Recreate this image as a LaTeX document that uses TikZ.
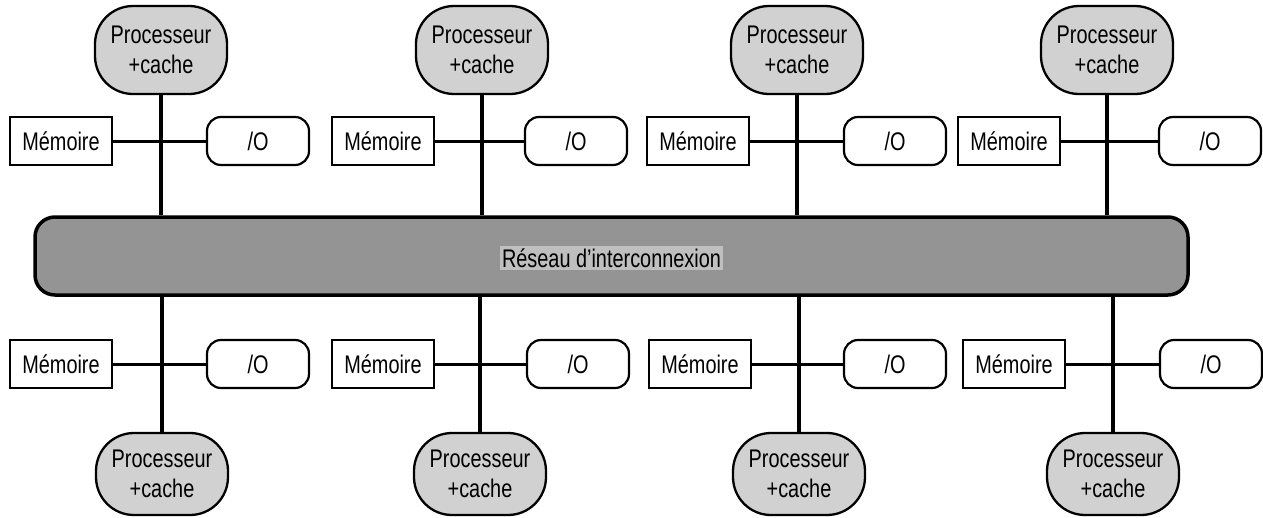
\documentclass[tikz,border=0pt]{standalone}
\usepackage{fontspec}
\setmainfont{Liberation Sans}[FakeStretch=0.78]
\begin{document}
\begin{tikzpicture}[x=1pt,y=-1pt,
  every node/.style={inner sep=0pt, font=\fontsize{25.5}{30}\selectfont},
  proc/.style={draw=black, line width=2.3pt, fill=black!18, rounded corners=38pt,
    minimum width=132pt, minimum height=88pt, align=center},
  mem/.style={draw=black, line width=2.2pt, fill=white, minimum width=102pt, minimum height=48pt},
  io/.style={draw=black, line width=2.2pt, fill=white, rounded corners=14pt, minimum width=102pt, minimum height=48pt},
  bus/.style={draw=black, line width=3.5pt, fill=black!42, rounded corners=20pt,
    minimum width=1153pt, minimum height=78pt},
  vlink/.style={line width=4pt},
  hlink/.style={line width=3pt}]
\useasboundingbox (0,0) rectangle (1263,517);

\node[bus] (bus) at (611.5,256) {};
\node[fill=black!25, inner sep=2pt] (bt) at (611.5,258) {Réseau d'interconnexion};

% top row
\foreach \i/\L/\M/\O in {1/161/61/258, 2/482/383/576, 3/797/698/895, 4/1107/1009/1210}{
  \node[proc] (tp\i) at (\L,50) {Processeur\\+cache};
  \node[mem] (tm\i) at (\M,141) {Mémoire};
  \node[io] (ti\i) at (\O,141) {/O};
  \draw[hlink] (tm\i) -- (ti\i);
  \draw[vlink] (tp\i) -- (tp\i |- bus.north);
}

% bottom row
\foreach \i/\L/\M/\O in {1/162/61/258, 2/480/383/578, 3/799/700/895, 4/1113/1014/1211}{
  \node[proc, minimum height=82pt] (bp\i) at (\L,474) {Processeur\\+cache};
  \node[mem] (bm\i) at (\M,364) {Mémoire};
  \node[io] (bi\i) at (\O,364) {/O};
  \draw[hlink] (bm\i) -- (bi\i);
  \draw[vlink] (bp\i) -- (bp\i |- bus.south);
}
\end{tikzpicture}
\end{document}
